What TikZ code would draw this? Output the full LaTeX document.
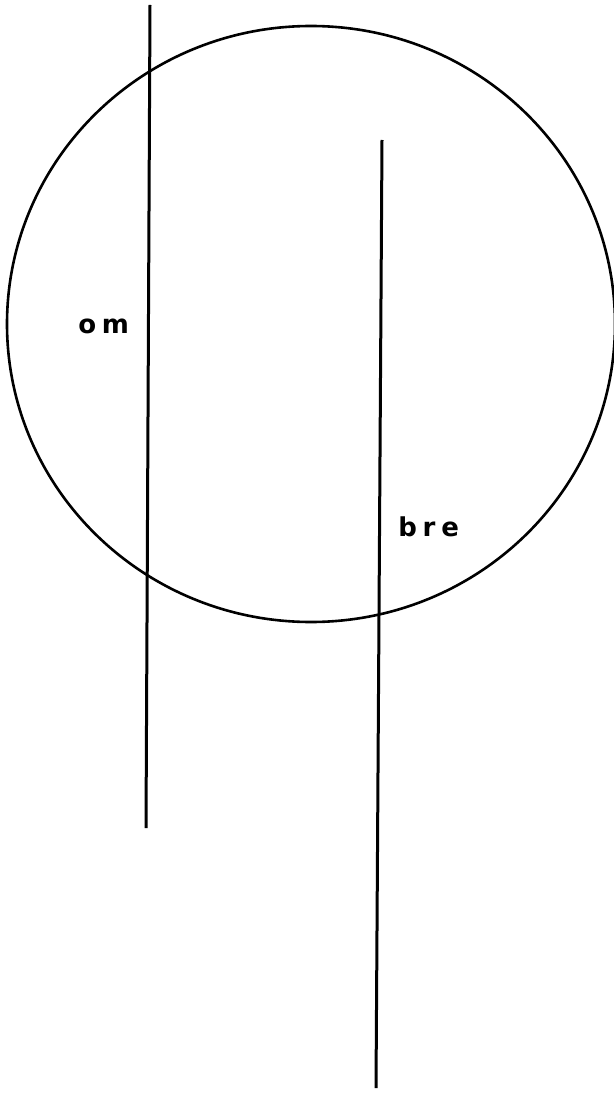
\documentclass[tikz,border=0pt]{standalone}
\usepackage{fontspec}
\newfontfamily\lblfont[LetterSpace=22]{DejaVu Sans Bold}
\usepackage{tikz}
\usetikzlibrary{positioning}

\begin{document}
\begin{tikzpicture}[
    x=0.5pt, y=-0.5pt,
    rod/.style={line width=1.5pt},
    rim/.style={line width=1.3pt},
    lbl/.style={font=\lblfont\fontsize{13}{15}\selectfont, inner sep=0pt, anchor=base west}
]
\useasboundingbox (0,0) rectangle (614,1118);
% circle
\draw[rim] (311,324) ellipse [x radius=304, y radius=298];
% the two rods
\coordinate (omtop) at (150,5);
\coordinate (ombot) at (146,828);
\coordinate (bretop) at (382,140);
\coordinate (brebot) at (376,1088);
\draw[rod] (omtop) -- (ombot);
\draw[rod] (bretop) -- (brebot);
% labels
\node[lbl] (om) at (78,333) {om};
\node[lbl] (bre) at (398,536) {bre};
\end{tikzpicture}
\end{document}
